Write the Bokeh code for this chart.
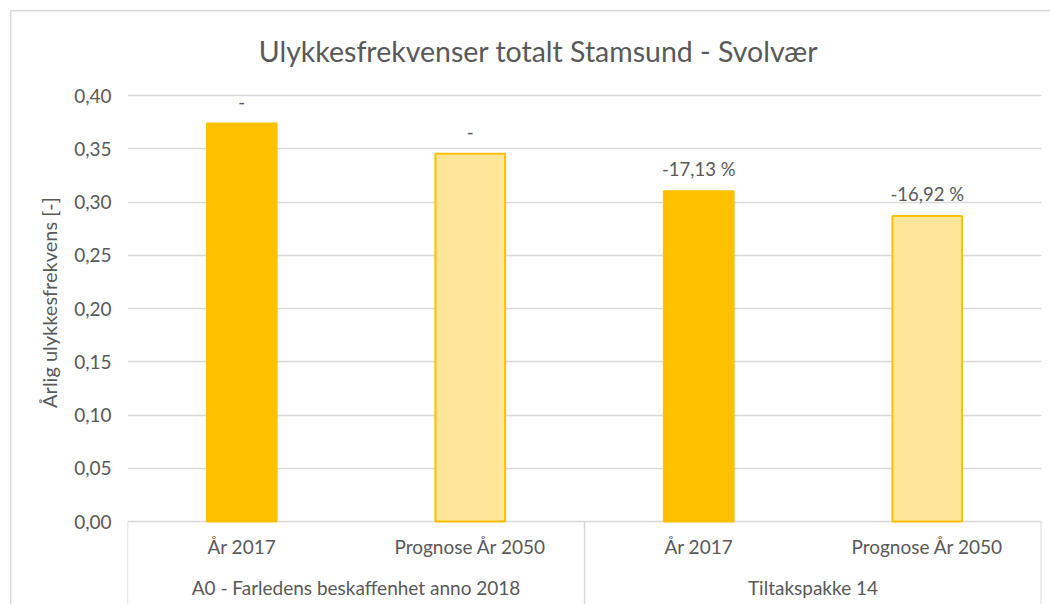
from bokeh.plotting import figure
from bokeh.models import (FixedTicker, CustomJSTickFormatter, ColumnDataSource,
                          Label, FactorRange, Range1d)
from bokeh.embed import file_html
from bokeh.resources import INLINE
from bokeh.core.properties import value

# ---------------- data ----------------
title_text = "Ulykkesfrekvenser totalt Stamsund - Svolvær"
y_label = "Årlig ulykkesfrekvens [-]"
groups = ["A0 - Farledens beskaffenhet anno 2018", "Tiltakspakke 14"]
periods = ["År 2017", "Prognose År 2050"]
bar_groups = [groups[0], groups[0], groups[1], groups[1]]
bar_periods = [periods[0], periods[1], periods[0], periods[1]]
frequencies = [0.3737, 0.3454, 0.3101, 0.2869]
change_labels = ["-", "-", "-17,13 %", "-16,92 %"]
y_ticks = [0.0, 0.05, 0.10, 0.15, 0.20, 0.25, 0.30, 0.35, 0.40]

# ---------------- styling ----------------
FONT = value("Lato")
TXT = "#595959"
GRID = "#D9D9D9"
DARK = "#FFC000"
LIGHT = "#FFE699"
bar_fills = [DARK, LIGHT, DARK, LIGHT]

W, H = 1050, 604
LEFT, RIGHT = 127, 9
Y0_PX, Y40_PX = 521, 95             # pixel rows of 0.00 and 0.40
px_per_unit = (Y0_PX - Y40_PX) / 0.40
y_end = Y0_PX / px_per_unit
y_start = -(H - Y0_PX) / px_per_unit

factors = list(zip(bar_groups, bar_periods))
x_range = FactorRange(*factors, group_padding=0, factor_padding=0,
                      subgroup_padding=0, range_padding=0)

p = figure(width=W, height=H, x_range=x_range, y_range=Range1d(y_start, y_end),
           title=None, toolbar_location=None, output_backend="svg",
           x_axis_location=None, min_border_left=LEFT, min_border_right=RIGHT,
           min_border_top=0, min_border_bottom=0)
p.outline_line_color = None
p.background_fill_color = None
p.border_fill_color = None
# outer chart-area border (light grey lines at left and top, 10px in)
p.styles = {
    "background": ("linear-gradient(#D9D9D9, #D9D9D9) 10px 10px / 1.5px 100% no-repeat, "
                   "linear-gradient(#D9D9D9, #D9D9D9) 10px 10px / 100% 1.5px no-repeat, "
                   "#ffffff"),
}
for g in p.xgrid:
    g.visible = False

# y axis
ax = p.yaxis[0]
ax.ticker = FixedTicker(ticks=y_ticks)
ax.formatter = CustomJSTickFormatter(code="return tick.toFixed(2).replace('.', ',');")
ax.axis_line_color = None
ax.major_tick_line_color = None
ax.minor_tick_line_color = None
ax.major_tick_out = 0
ax.major_tick_in = 0
ax.major_label_standoff = 16
ax.major_label_text_font = "Lato"
ax.major_label_text_font_size = "19px"
ax.major_label_text_color = TXT
ax.axis_label = y_label
ax.axis_label_text_font = "Lato"
ax.axis_label_text_font_size = "20px"
ax.axis_label_text_font_style = "normal"
ax.axis_label_text_color = TXT
ax.axis_label_standoff = 10

p.ygrid.grid_line_color = GRID
p.ygrid.grid_line_width = 1.5

# bars
src = ColumnDataSource(dict(x=factors, freq=frequencies, fill=bar_fills,
                            change=change_labels))
p.vbar(x="x", top="freq", bottom=0, width=0.305, source=src,
       fill_color="fill", line_color=DARK, line_width=2)

# data labels
p.text(x="x", y="freq", text="change", source=src, y_offset=-22,
       text_align="center", text_baseline="alphabetic",
       text_font=FONT, text_font_size="18.5px", text_color=TXT)

# category axis (two tiers) drawn below zero
p.text(x=factors, y=[0] * len(factors), text=bar_periods, y_offset=25,
       text_align="center", text_baseline="middle",
       text_font=FONT, text_font_size="19px", text_color=TXT)
p.text(x=groups, y=[0] * len(groups), text=groups, y_offset=66,
       text_align="center", text_baseline="middle",
       text_font=FONT, text_font_size="19px", text_color=TXT)

# separators of the category axis
sep_x = [(groups[0], periods[0], -0.5), (groups[1], periods[0], -0.5),
         (groups[1], periods[1], 0.499)]
p.segment(x0=sep_x, y0=[0] * 3, x1=sep_x, y1=[y_start] * 3,
          line_color=GRID, line_width=1.5)

# title (centred on the chart area)
title_x = (538 - LEFT) / ((W - LEFT - RIGHT) / len(factors))
p.add_layout(Label(x=title_x, y=(Y0_PX - 50) / px_per_unit, text=title_text,
                   text_align="center", text_baseline="middle",
                   text_font="Lato", text_font_size="28.5px", text_color=TXT))

open("out.html", "w").write(file_html(p, INLINE))
